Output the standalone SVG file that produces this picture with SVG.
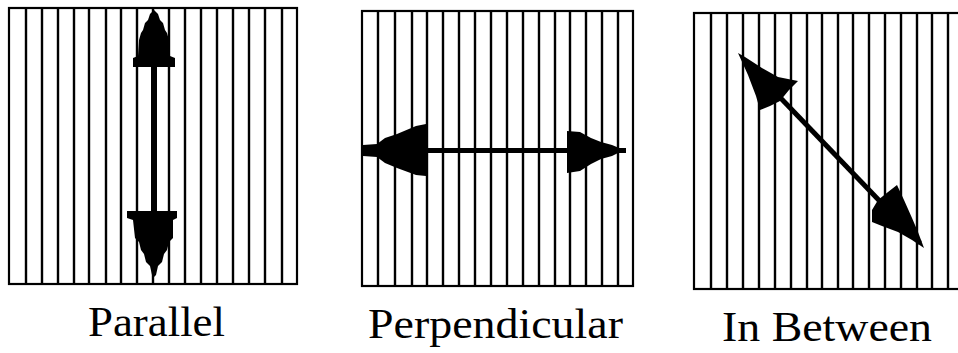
<svg xmlns="http://www.w3.org/2000/svg" width="958" height="353" viewBox="0 0 958 353">
<style>
.frame{fill:#fff;stroke:#000;stroke-width:2.2}
.grid line{stroke:#000;stroke-width:2.4}
.head{fill:#000}
.shaft{stroke:#000;fill:none}
.lbl{font-family:"Liberation Serif","DejaVu Serif",serif;font-size:43px;fill:#000}
</style>
<rect width="958" height="353" fill="#fff"/>

<g id="panel-parallel">
  <rect class="frame" x="9" y="8" width="288" height="276"/>
  <g class="grid">
    <line x1="26" y1="8" x2="26" y2="284"/><line x1="42" y1="8" x2="42" y2="284"/>
    <line x1="58" y1="8" x2="58" y2="284"/><line x1="74" y1="8" x2="74" y2="284"/>
    <line x1="89" y1="8" x2="89" y2="284"/><line x1="106" y1="8" x2="106" y2="284"/>
    <line x1="121" y1="8" x2="121" y2="284"/><line x1="137" y1="8" x2="137" y2="284"/>
    <line x1="153" y1="8" x2="153" y2="284"/><line x1="169" y1="8" x2="169" y2="284"/>
    <line x1="185" y1="8" x2="185" y2="284"/><line x1="201" y1="8" x2="201" y2="284"/>
    <line x1="217" y1="8" x2="217" y2="284"/><line x1="233" y1="8" x2="233" y2="284"/>
    <line x1="249" y1="8" x2="249" y2="284"/><line x1="265" y1="8" x2="265" y2="284"/>
    <line x1="282" y1="8" x2="282" y2="284"/>
  </g>
</g>

<g id="panel-perpendicular">
  <rect class="frame" x="362" y="11" width="271" height="275"/>
  <g class="grid">
    <line x1="378" y1="11" x2="378" y2="286"/><line x1="395" y1="11" x2="395" y2="286"/>
    <line x1="412" y1="11" x2="412" y2="286"/><line x1="427" y1="11" x2="427" y2="286"/>
    <line x1="443" y1="11" x2="443" y2="286"/><line x1="459" y1="11" x2="459" y2="286"/>
    <line x1="475" y1="11" x2="475" y2="286"/><line x1="491" y1="11" x2="491" y2="286"/>
    <line x1="507" y1="11" x2="507" y2="286"/><line x1="523" y1="11" x2="523" y2="286"/>
    <line x1="539" y1="11" x2="539" y2="286"/><line x1="555" y1="11" x2="555" y2="286"/>
    <line x1="570" y1="11" x2="570" y2="286"/><line x1="586" y1="11" x2="586" y2="286"/>
    <line x1="602" y1="11" x2="602" y2="286"/><line x1="618" y1="11" x2="618" y2="286"/>
  </g>
</g>

<g id="panel-inbetween">
  <rect class="frame" x="694" y="13" width="280" height="276"/>
  <g class="grid">
    <line x1="711" y1="13" x2="711" y2="289"/><line x1="727" y1="13" x2="727" y2="289"/>
    <line x1="743" y1="13" x2="743" y2="289"/><line x1="759" y1="13" x2="759" y2="289"/>
    <line x1="775" y1="13" x2="775" y2="289"/><line x1="791" y1="13" x2="791" y2="289"/>
    <line x1="807" y1="13" x2="807" y2="289"/><line x1="822" y1="13" x2="822" y2="289"/>
    <line x1="838" y1="13" x2="838" y2="289"/><line x1="853" y1="13" x2="853" y2="289"/>
    <line x1="869" y1="13" x2="869" y2="289"/><line x1="885" y1="13" x2="885" y2="289"/>
    <line x1="901" y1="13" x2="901" y2="289"/><line x1="917" y1="13" x2="917" y2="289"/>
    <line x1="932" y1="13" x2="932" y2="289"/><line x1="948" y1="13" x2="948" y2="289"/>
  </g>
</g>

<g id="connectors">
  <!-- parallel -->
  <line class="shaft" x1="154" y1="64" x2="154" y2="214" stroke-width="6"/>
  <polygon class="head" points="154,10 158,14 160,20 163,23 165,30 167,33 169,40 170,56 175,58 175,67 133,67 133,58 138,56 139,40 141,33 143,30 145,23 148,20 150,14"/>
  <polygon class="head" points="127,211 177,211 177,218 173,220 173,238 169,242 167,250 164,254 162,262 158,266 156,275 154,277 152,275 150,266 146,262 144,254 141,250 139,242 135,238 133,220 127,218"/>
  <!-- perpendicular -->
  <line class="shaft" x1="363" y1="150.5" x2="626" y2="150.5" stroke-width="5"/>
  <polygon class="head" points="363,145 377,144 385,138 397,134 416,126 426,124 426,176 416,175 397,168 385,163 377,157 363,156"/>
  <polygon class="head" points="567,131 580,132 591,138 601,142 612,145 624,150 612,156 601,159 591,164 580,171 567,173"/>
  <!-- in between -->
  <line class="shaft" x1="745" y1="61" x2="920" y2="243" stroke-width="5"/>
  <polygon class="head" points="738,53 745,57 762,68 778,77 798,81 789,90 780,101 770,106 760,110 756,96 748,75"/>
  <polygon class="head" points="924,248 912,240 898,232 882,226 872,222 872,210 878,200 888,192 897,185 904,200 912,218 918,232"/>
</g>

<g id="labels">
  <text class="lbl" x="88" y="336" textLength="137" lengthAdjust="spacingAndGlyphs">Parallel</text>
  <text class="lbl" x="368" y="338" textLength="255" lengthAdjust="spacingAndGlyphs">Perpendicular</text>
  <text class="lbl" x="722" y="341" textLength="210" lengthAdjust="spacingAndGlyphs">In Between</text>
</g>
</svg>
